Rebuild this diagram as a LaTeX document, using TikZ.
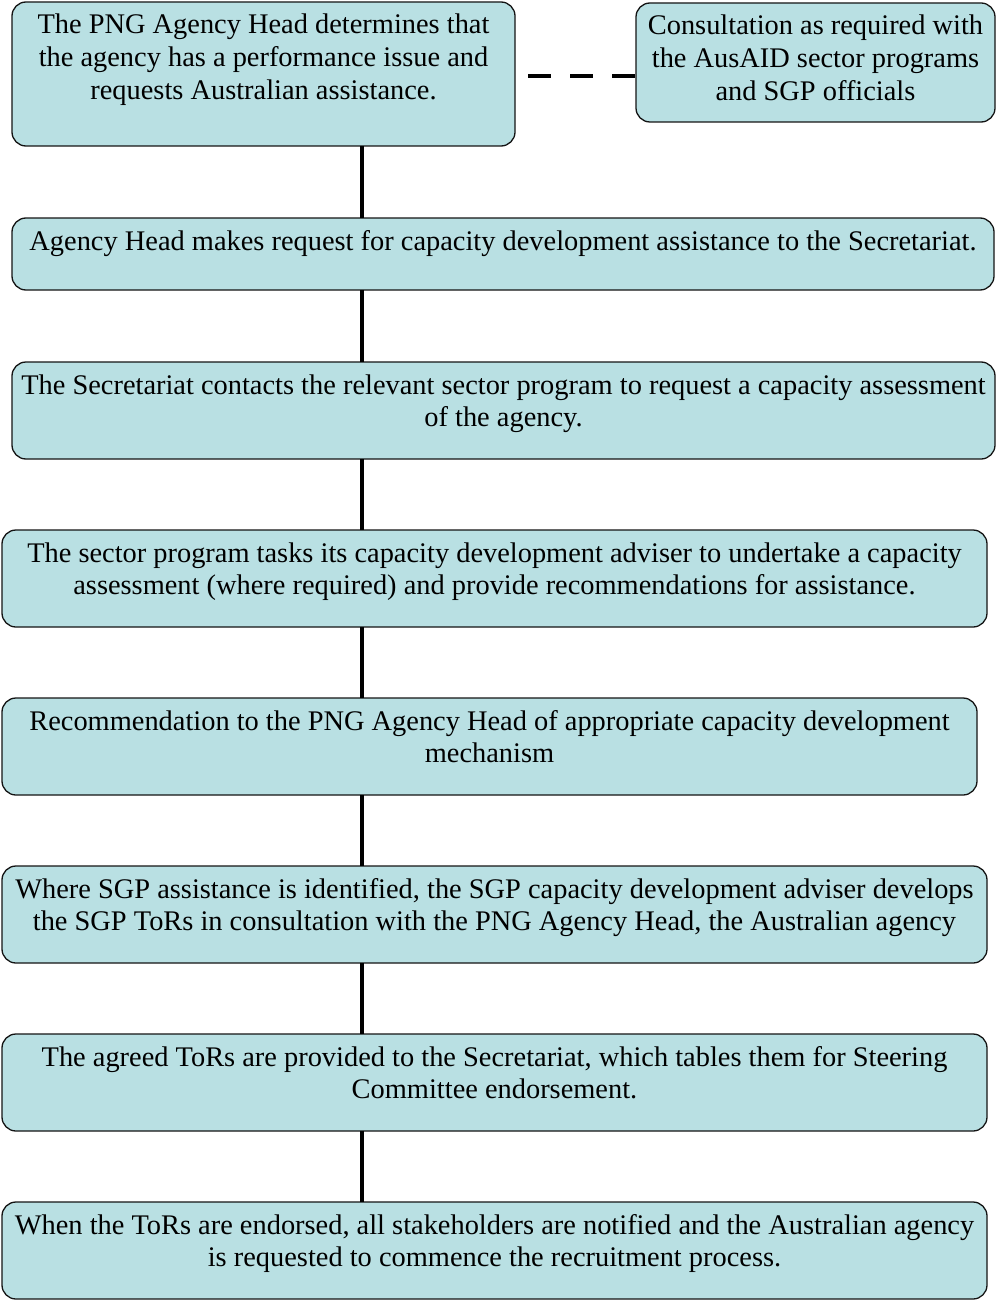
\documentclass[tikz,border=0pt]{standalone}
\usepackage{fontspec}
\setmainfont{Liberation Serif}
\definecolor{stepfill}{RGB}{185,224,227}
\definecolor{stepline}{RGB}{20,20,20}

% one rounded step of the flow chart: name, left, top, right, bottom, text
\newcommand\flowbox[6]{%
  \node[flowstep, minimum width={(#4-#2)*1pt}, minimum height={(#5-#3)*1pt}]
    (#1) at ({(#2+#4)/2},{(#3+#5)/2})
    {\parbox[c][\dimexpr#5pt-#3pt\relax][t]{\dimexpr#4pt-#2pt\relax}{\centering\rule{0pt}{32pt}#6\par}};}

\begin{document}
\begin{tikzpicture}[x=1pt,y=-1pt,
  flowstep/.style={draw=stepline, line width=1.3pt, fill=stepfill,
    rounded corners=14pt, inner sep=0pt, outer sep=0pt,
    font=\fontsize{28.4}{32.8}\selectfont},
  spine/.style={line width=4.5pt, draw=black},
  dashlink/.style={line width=4.5pt, draw=black,
    dash pattern=on 23pt off 19pt, dash phase=29pt}]
\useasboundingbox (0,0) rectangle (997,1300);

\flowbox{head}{12}{2}{515}{146}{The PNG Agency Head determines that\\the agency has a performance issue and\\requests Australian assistance.}
\flowbox{consult}{636}{3}{995}{122}{Consultation as required with\\the AusAID sector programs\\and SGP officials}
\flowbox{request}{12}{218}{994}{290}{Agency Head makes request for capacity development assistance to the Secretariat.}
\flowbox{contact}{12}{362}{995}{459}{The Secretariat contacts the relevant sector program to request a capacity assessment\\of the agency.}
\flowbox{assess}{2}{530}{987}{627}{The sector program tasks its capacity development adviser to undertake a capacity\\assessment (where required) and provide recommendations for assistance.}
\flowbox{recommend}{2}{698}{977}{795}{Recommendation to the PNG Agency Head of appropriate capacity development\\mechanism}
\flowbox{tors}{2}{866}{987}{963}{Where SGP assistance is identified, the SGP capacity development adviser develops\\the SGP ToRs in consultation with the PNG Agency Head, the Australian agency}
\flowbox{tables}{2}{1034}{987}{1131}{The agreed ToRs are provided to the Secretariat, which tables them for Steering\\Committee endorsement.}
\flowbox{notify}{2}{1202}{987}{1299}{When the ToRs are endorsed, all stakeholders are notified and the Australian agency\\is requested to commence the recruitment process.}

% vertical spine joining the steps
\coordinate (spinex) at (362,0);
\foreach \a/\b in {head/request, request/contact, contact/assess, assess/recommend,
                   recommend/tors, tors/tables, tables/notify}
  \draw[spine] (\a.south -| spinex) -- (\b.north -| spinex);

% dashed consultation link
\coordinate (dashy) at (0,76);
\draw[dashlink] (head.east |- dashy) -- (consult.west |- dashy);
\end{tikzpicture}
\end{document}
